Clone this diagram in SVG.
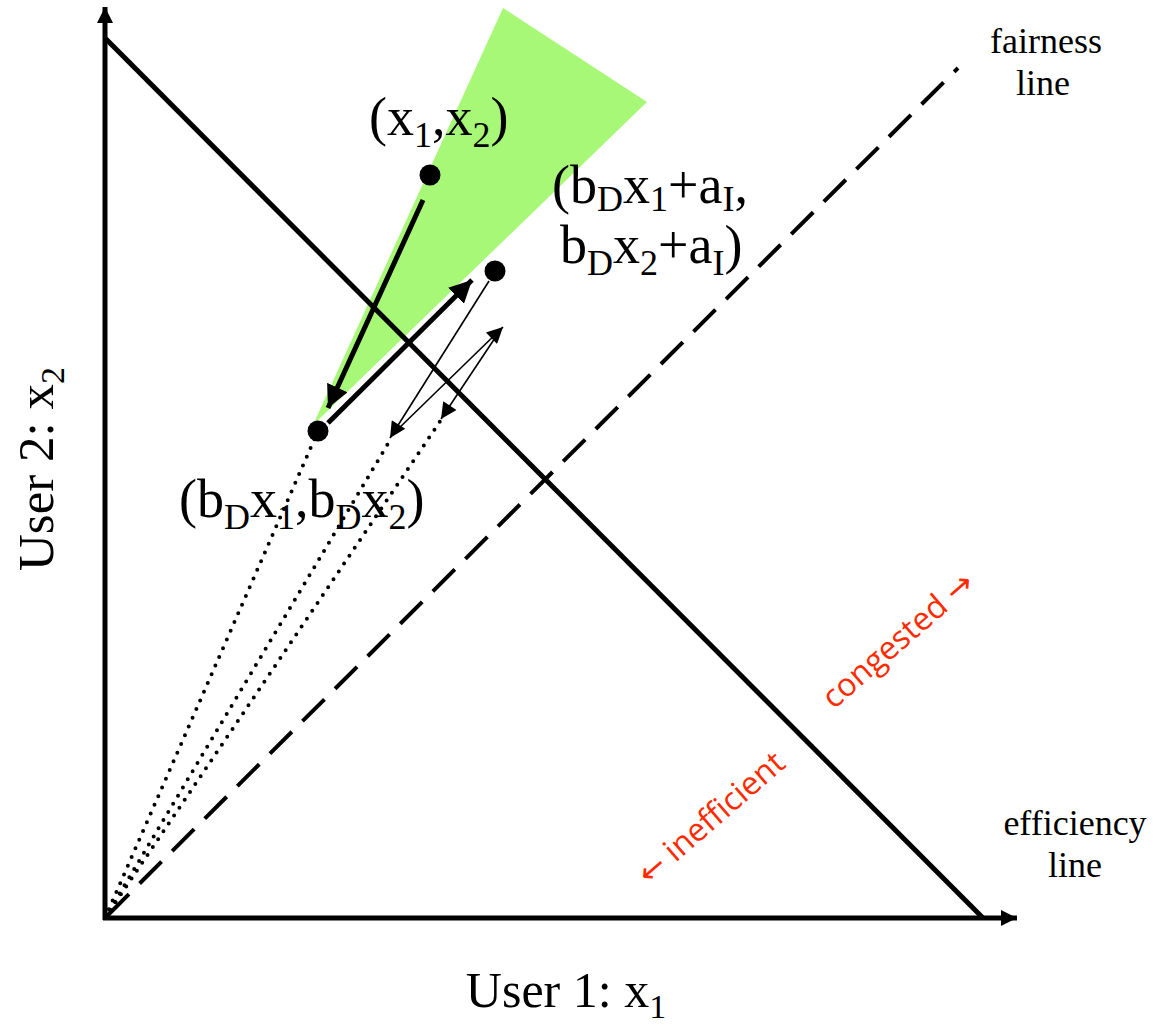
<svg xmlns="http://www.w3.org/2000/svg" width="1169" height="1029" viewBox="0 0 1169 1029">
<style>
.serif{font-family:"Liberation Serif","Times New Roman",serif;fill:#000}
.pt{font-size:54px}
.sub{font-size:36px}
.red{font-family:"Open Sans","Liberation Sans",sans-serif;fill:#ff2a00;font-size:32px}
.arr{font-family:"DejaVu Sans",sans-serif}
.thick{stroke:#000;stroke-width:5;fill:none}
.thin{stroke:#000;stroke-width:1.6;fill:none}
.dot{stroke:#000;stroke-width:4;stroke-linecap:round;stroke-dasharray:0 9.5;fill:none}
</style>
<defs>
<marker id="ah" viewBox="0 0 10 10" refX="10" refY="5" markerWidth="4.5" markerHeight="4.5" markerUnits="strokeWidth" orient="auto"><path d="M0,0 L10,5 L0,10 z" fill="#000"/></marker>
<marker id="ahs" viewBox="0 0 10 10" refX="10" refY="5" markerWidth="12" markerHeight="10" markerUnits="strokeWidth" orient="auto"><path d="M0,0 L10,5 L0,10 z" fill="#000"/></marker>
<marker id="axh" viewBox="0 0 10 10" refX="10" refY="5" markerWidth="3.2" markerHeight="3.3" markerUnits="strokeWidth" orient="auto"><path d="M0,0 L10,5 L0,10 z" fill="#000"/></marker>
</defs>
<g id="region">
<polygon points="503,8 647,102 313,425" fill="#a8f878"/>
</g>
<g id="connectors">
<line id="efficiency" x1="105" y1="38" x2="983" y2="918" class="thick"/>
<line id="fairness" x1="107" y1="916" x2="958" y2="68" stroke="#000" stroke-width="4" stroke-dasharray="31,15"/>
<line x1="105" y1="918" x2="318" y2="431" class="dot"/>
<line x1="105" y1="918" x2="392" y2="437" class="dot"/>
<line x1="105" y1="918" x2="441" y2="420" class="dot"/>
<line x1="423" y1="200" x2="328" y2="408" class="thick" marker-end="url(#ah)"/>
<line x1="328" y1="423" x2="472" y2="280" class="thick" marker-end="url(#ah)"/>
<line x1="489" y1="281" x2="390" y2="438" class="thin" marker-end="url(#ahs)"/>
<line x1="395" y1="432" x2="503" y2="327" class="thin" marker-end="url(#ahs)"/>
<line x1="499" y1="332" x2="441" y2="419" class="thin" marker-end="url(#ahs)"/>
<line id="yaxis" x1="105" y1="920" x2="105" y2="7" class="thick" marker-end="url(#axh)"/>
<line id="xaxis" x1="103" y1="918" x2="1017" y2="918" class="thick" marker-end="url(#axh)"/>
</g>
<g id="p1"><circle cx="430" cy="175" r="10.5" fill="#000"/>
<text class="serif pt" x="369" y="135">(x<tspan class="sub" dy="12">1</tspan><tspan dy="-12">,x</tspan><tspan class="sub" dy="12">2</tspan><tspan dy="-12">)</tspan></text></g>
<g id="p2"><circle cx="495" cy="271" r="10.5" fill="#000"/>
<text class="serif pt" x="552" y="203">(b<tspan class="sub" dy="8">D</tspan><tspan dy="-8">x</tspan><tspan class="sub" dy="8">1</tspan><tspan dy="-8">+a</tspan><tspan class="sub" dy="8">I</tspan><tspan dy="-8">,</tspan></text>
<text class="serif pt" x="560" y="263">b<tspan class="sub" dy="12">D</tspan><tspan dy="-12">x</tspan><tspan class="sub" dy="12">2</tspan><tspan dy="-12">+a</tspan><tspan class="sub" dy="12">I</tspan><tspan dy="-12">)</tspan></text></g>
<g id="p3"><circle cx="318" cy="431" r="10.5" fill="#000"/>
<text class="serif pt" x="179" y="517">(b<tspan class="sub" dy="12">D</tspan><tspan dy="-12">x</tspan><tspan class="sub" dy="12">1</tspan><tspan dy="-12">,b</tspan><tspan class="sub" dy="12">D</tspan><tspan dy="-12">x</tspan><tspan class="sub" dy="12">2</tspan><tspan dy="-12">)</tspan></text></g>
<g id="labels">
<text class="serif" font-size="36" x="1046" y="53" text-anchor="middle">fairness</text>
<text class="serif" font-size="36" x="1043" y="95" text-anchor="middle">line</text>
<text class="serif" font-size="36" x="1075" y="835" text-anchor="middle">efficiency</text>
<text class="serif" font-size="36" x="1075" y="877" text-anchor="middle">line</text>
<text class="serif" font-size="50" x="566" y="1007" text-anchor="middle">User 1: x<tspan font-size="34" dy="11">1</tspan></text>
<text class="serif" font-size="51" transform="translate(53,469) rotate(-90)" text-anchor="middle">User 2: x<tspan font-size="34" dy="11">2</tspan></text>
<text class="red" transform="translate(718,826) rotate(-41)" text-anchor="middle"><tspan class="arr">←</tspan> inefficient</text>
<text class="red" transform="translate(905,648) rotate(-41)" text-anchor="middle">congested <tspan class="arr">→</tspan></text>
</g>
</svg>
